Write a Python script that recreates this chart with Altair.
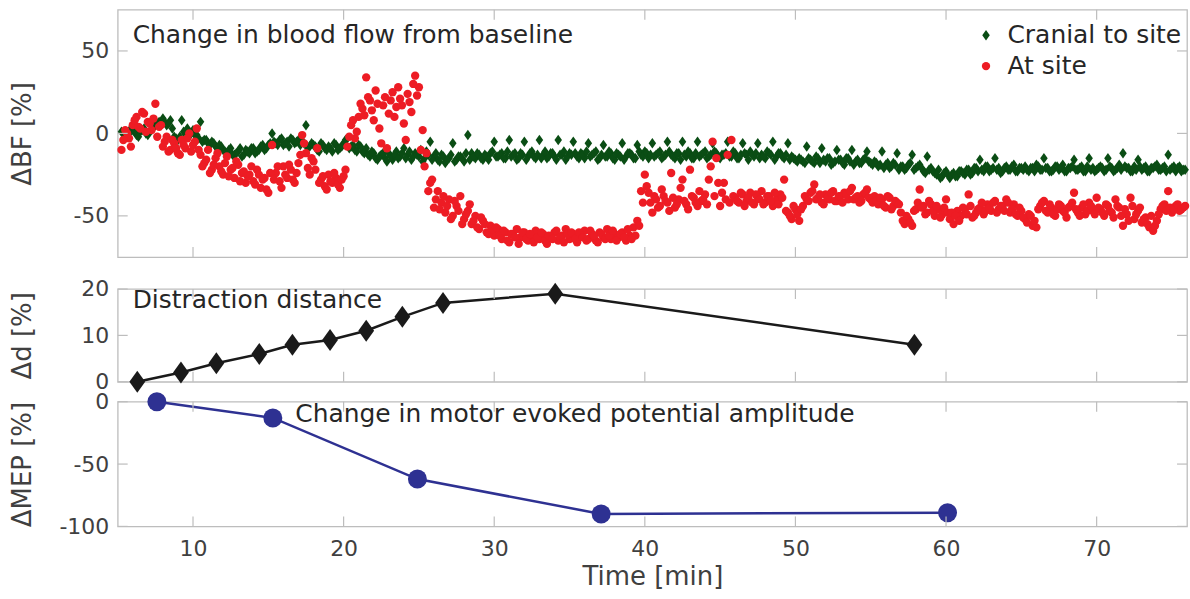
import altair as alt
import pandas as pd

# ---------------- data ----------------
# blood-flow samples: two interleaved sample sets, each one value every 0.25 min
BF_START_A = 5.25
BF_START_B = 5.375
BF_STEP = 0.25

cranial_bf_a = [
    1, -2, 0, 2, -1, 1, 3, -1, 2, 5, 7, 9, 5, 8, -2, -4, 8, 1, 0, 2,
    -1, 7, -4, -6, -5, -8, -7, -10, -12, -9, -13, -11, -14, -10, -12, -9, -11, -8, -10, -7,
    0, -6, -4, -7, -5, -3, -6, -4, -5, 5, -8, -7, -10, -6, -9, -8, -11, -7, -9, -6,
    -3, -8, -10, -7, -11, -9, -14, -12, -16, -13, -15, -12, -16, -11, -14, -9, -13, -16, -12, -14,
    -17, -11, -5, -14, -16, -13, -18, -15, -6, -16, -14, -17, -1, -12, -15, -13, -16, -14, -12, -5,
    -14, -12, -15, -4, -13, -16, -12, -5, -14, -11, -15, -4, -13, -15, -12, -14, -4, -13, -16, -12,
    -5, -14, -12, -15, -6, -13, -11, -15, -7, -14, -12, -16, -13, -6, -14, -12, -15, -7, -13, -11,
    -15, -6, -13, -11, -14, -5, -13, -15, -12, -5, -14, -12, -15, -5, -13, -11, -14, -6, -12, -15,
    -13, -5, -14, -12, -15, -6, -13, -11, -14, -6, -13, -15, -12, -5, -14, -12, -15, -6, -14, -16,
    -15, -17, -8, -16, -18, -15, -9, -17, -15, -18, -10, -16, -19, -15, -10, -17, -18, -16, -11, -18,
    -17, -20, -11, -19, -21, -18, -12, -20, -22, -19, -13, -21, -19, -23, -14, -21, -24, -22, -26, -23,
    -27, -24, -26, -23, -25, -22, -24, -21, -16, -23, -20, -22, -15, -21, -23, -20, -22, -19, -23, -21,
    -20, -23, -21, -19, -22, -15, -21, -23, -20, -22, -19, -23, -21, -16, -22, -20, -23, -15, -21, -22,
    -20, -23, -15, -21, -22, -19, -12, -21, -23, -20, -16, -22, -20, -23, -21, -19, -22, -20, -13, -21,
    -23, -20, -22,
]
cranial_bf_b = [
    0, -1, 3, 1, -2, 2, 0, 1, 4, 6, 5, 7, 6, 3, -3, -2, 1, 3, 0, -1,
    -3, -5, -4, -7, -6, -9, -8, -11, -10, -13, -12, -9, -13, -11, -9, -12, -10, -7, -9, -6,
    -5, -7, -3, -6, -8, -4, -5, -7, -6, -9, -6, -8, -11, -7, -10, -9, -6, -10, -8, -4,
    -9, -7, -11, -8, -12, -13, -11, -15, -14, -12, -17, -14, -13, -15, -12, -15, -11, -14, -13, -10,
    -15, -13, -16, -12, -17, -14, -16, -13, -17, -14, -15, -12, -16, -14, -12, -15, -13, -16, -11, -14,
    -13, -15, -11, -14, -12, -15, -13, -16, -12, -14, -13, -15, -11, -14, -12, -16, -13, -11, -14, -13,
    -12, -15, -13, -11, -14, -12, -16, -13, -14, -11, -15, -12, -14, -16, -12, -13, -15, -11, -14, -12,
    -13, -14, -12, -15, -13, -11, -14, -12, -16, -13, -11, -15, -12, -14, -12, -15, -13, -11, -14, -13,
    -12, -14, -11, -15, -13, -12, -16, -13, -12, -15, -14, -11, -13, -16, -12, -14, -13, -16, -15, -17,
    -16, -18, -15, -17, -14, -18, -16, -15, -19, -17, -16, -18, -15, -17, -19, -16, -18, -15, -17, -19,
    -18, -19, -21, -18, -20, -19, -22, -20, -21, -18, -22, -20, -21, -24, -22, -23, -25, -27, -24, -25,
    -25, -26, -23, -24, -22, -25, -21, -23, -22, -20, -23, -21, -22, -24, -21, -22, -20, -23, -21, -22,
    -22, -21, -23, -20, -22, -21, -23, -22, -20, -21, -23, -21, -20, -22, -21, -23, -20, -22, -23, -21,
    -21, -22, -20, -23, -21, -22, -20, -21, -23, -22, -20, -21, -23, -21, -20, -22, -21, -23, -22, -20,
    -21, -23, -22,
]

atsite_bf_a = [
    -10, 2, -3, 5, 10, 3, 12, 7, 2, 18, 4, -8, -2, -10, -6, -12, -4, -9, 0, -7,
    3, -13, -18, -10, -22, -15, -20, -25, -14, -22, -27, -19, -24, -30, -25, -29, -22, -33, -27, -36,
    -7, -24, -29, -20, -27, -22, -30, -18, -1, -12, -25, -17, -9, -28, -32, -25, -30, -27, -33, -26,
    -8, 5, -3, 10, 15, 34, 20, 8, 18, -6, 22, 12, 25, 16, 21, 6, 24, 13, 35, 28,
    2, -12, -30, -45, -35, -42, -48, -40, -50, -44, -38, -52, -47, -55, -50, -58, -53, -60, -56, -62,
    -58, -64, -60, -66, -61, -58, -63, -60, -65, -62, -59, -64, -61, -67, -63, -60, -65, -62, -58, -64,
    -61, -66, -62, -59, -64, -61, -65, -60, -63, -58, -64, -61, -63, -60, -65, -62, -57, -53, -35, -25,
    -36, -48, -40, -44, -38, -42, -24, -45, -40, -28, -43, -22, -39, -44, -41, -37, -28, -5, -15, -44,
    -30, -13, -4, -39, -42, -37, -41, -36, -43, -39, -35, -42, -38, -44, -40, -37, -28, -48, -52, -46,
    -53, -44, -40, -36, -31, -39, -42, -37, -40, -35, -41, -38, -36, -40, -33, -39, -42, -37, -34, -40,
    -38, -43, -40, -45, -39, -44, -42, -48, -55, -52, -56, -46, -34, -44, -48, -43, -50, -46, -49, -40,
    -52, -55, -47, -50, -46, -37, -51, -48, -45, -49, -43, -47, -41, -46, -44, -40, -48, -43, -50, -47,
    -52, -49, -56, -57, -44, -41, -48, -45, -50, -43, -47, -51, -44, -36, -48, -45, -49, -42, -47, -39,
    -46, -50, -44, -48, -40, -45, -56, -49, -39, -52, -47, -54, -51, -57, -59, -53, -46, -43, -35, -48,
    -44, -47, -45,
]
atsite_bf_b = [
    -4, 0, -8, 8, 4, 13, 1, 6, 9, -2, 5, -5, -11, -4, -9, -13, -7, -3, -11, -5,
    -10, -20, -16, -24, -19, -12, -23, -18, -26, -21, -17, -29, -23, -26, -20, -31, -25, -28, -34, -24,
    -28, -20, -33, -25, -19, -28, -24, -13, -6, -21, -15, -22, -30, -26, -34, -29, -24, -31, -28, -22,
    -2, 8, 1, 18, 11, 22, 14, 26, 3, 17, -9, 20, 10, 28, 17, -4, 19, 30, 23, -10,
    -20, -35, -28, -40, -46, -38, -44, -52, -41, -47, -55, -49, -43, -53, -57, -51, -55, -61, -58, -57,
    -62, -59, -65, -61, -63, -67, -60, -64, -61, -66, -63, -60, -65, -62, -64, -59, -63, -66, -61, -60,
    -64, -60, -63, -65, -59, -62, -66, -61, -64, -62, -59, -65, -61, -63, -58, -64, -62, -56, -42, -32,
    -42, -38, -45, -34, -41, -47, -39, -43, -33, -41, -46, -38, -42, -35, -40, -43, -20, -38, -30, -36,
    -40, -42, -38, -41, -36, -44, -39, -42, -37, -40, -43, -38, -41, -36, -43, -39, -47, -50, -44, -49,
    -46, -38, -41, -35, -40, -37, -43, -39, -36, -41, -38, -42, -37, -35, -40, -38, -41, -36, -39, -42,
    -41, -39, -44, -38, -46, -41, -43, -53, -50, -54, -47, -42, -45, -49, -41, -47, -44, -51, -45, -48,
    -48, -50, -53, -45, -49, -44, -50, -46, -42, -47, -45, -42, -48, -44, -47, -42, -46, -49, -45, -51,
    -54, -50, -53, -46, -42, -47, -43, -49, -46, -44, -48, -45, -42, -46, -50, -43, -47, -44, -49, -45,
    -48, -43, -47, -51, -44, -50, -46, -53, -44, -49, -45, -52, -55, -50, -56, -49, -44, -47, -45, -46,
    -43, -46, -44,
]

series_names = ["Cranial to site", "At site"]

dist_time = [6.3, 9.2, 11.55, 14.4, 16.6, 19.1, 21.5, 23.9, 26.6, 34.05, 57.9]
dist_val = [0, 2, 4, 6, 8, 9, 11, 14, 17, 19, 8]

mep_time = [7.6, 15.3, 24.9, 37.1, 60.1]
mep_val = [0, -13, -62, -90, -89]

x_ticks = [10, 20, 30, 40, 50, 60, 70]
bf_ticks = [-50, 0, 50]
d_ticks = [0, 10, 20]
mep_ticks = [-100, -50, 0]


# ---------------- tables ----------------
def sample_table(values, start, name, rank):
    times = [round(start + BF_STEP * i, 3) for i in range(len(values))]
    return pd.DataFrame({"t": times, "v": values, "s": name, "rank": rank})


bf_df = pd.concat([
    sample_table(cranial_bf_a, BF_START_A, series_names[0], 0),
    sample_table(cranial_bf_b, BF_START_B, series_names[0], 0),
    sample_table(atsite_bf_a, BF_START_A, series_names[1], 1),
    sample_table(atsite_bf_b, BF_START_B, series_names[1], 1),
], ignore_index=True)
dist_df = pd.DataFrame({"t": dist_time, "v": dist_val})
mep_df = pd.DataFrame({"t": mep_time, "v": mep_val})

# ---------------- style ----------------
W = 1072
H1, H2, H3 = 248, 93, 125
FONT = "DejaVu Sans"
GREY = "#bdbdbd"
LAB = "#404040"
TXT = "#262626"
GREEN = "#0a4d14"
RED = "#ed1c24"
BLACK = "#1a1a1a"
BLUE = "#2e3192"
DIAMOND = "M0,-1L0.72,0L0,1L-0.72,0Z"
TICK = 10

xs = alt.Scale(domain=[5, 76], nice=False, zero=False)


def x_axis(show):
    if not show:
        return None
    return alt.Axis(values=x_ticks, title="Time [min]", ticks=False, tickSize=0,
                    domain=False, grid=False, labelPadding=12, titlePadding=4,
                    labelFontSize=22, titleFontSize=26, labelColor=LAB,
                    titleColor=LAB, titleFontWeight="normal", labelFont=FONT,
                    titleFont=FONT, labelExpr="'' + datum.value")


def y_axis(title, ticks, h):
    return alt.Axis(values=ticks, title=title, ticks=False, tickSize=0,
                    domain=False, grid=False, labelPadding=9, labelFontSize=22,
                    titleFontSize=26, labelColor=LAB, titleColor=LAB,
                    titleFontWeight="normal", labelFont=FONT, titleFont=FONT,
                    titleX=-95, titleY=h / 2, titleAngle=270, titleAlign="center",
                    titleBaseline="middle", labelExpr="'' + datum.value",
                    labelFlush=False)


def frame_ticks(yticks, ys, h, xa, ya):
    xt = pd.DataFrame({"tv": x_ticks})
    yt = pd.DataFrame({"tv": yticks})
    top = alt.Chart(xt).mark_rule(color=GREY, strokeWidth=1.2).encode(
        x=alt.X("tv:Q", scale=xs, axis=xa), y=alt.value(0), y2=alt.value(TICK))
    bot = alt.Chart(xt).mark_rule(color=GREY, strokeWidth=1.2).encode(
        x=alt.X("tv:Q", scale=xs, axis=xa), y=alt.value(h), y2=alt.value(h - TICK))
    left = alt.Chart(yt).mark_rule(color=GREY, strokeWidth=1.2).encode(
        y=alt.Y("tv:Q", scale=ys, axis=ya), x=alt.value(0), x2=alt.value(TICK))
    right = alt.Chart(yt).mark_rule(color=GREY, strokeWidth=1.2).encode(
        y=alt.Y("tv:Q", scale=ys, axis=ya), x=alt.value(W), x2=alt.value(W - TICK))
    return [top, bot, left, right]


def label(text, x, y):
    return alt.Chart(pd.DataFrame({"txt": [text]})).mark_text(
        align="left", baseline="middle", font=FONT, fontSize=25, color=TXT
    ).encode(text="txt:N", x=alt.value(x), y=alt.value(y))


def legend():
    return alt.Legend(orient="none", legendX=858, legendY=13, title=None,
                      labelFontSize=25, labelColor=TXT, labelFont=FONT,
                      labelLimit=0, symbolSize=45, labelOffset=9, rowPadding=5,
                      padding=0, symbolStrokeWidth=0)


# ---------------- top panel: blood flow ----------------
ys1 = alt.Scale(domain=[-75, 75], nice=False, zero=False)
xa1 = x_axis(False)
ya1 = y_axis("ΔBF [%]", bf_ticks, H1)
scatter = alt.Chart(bf_df).mark_point(filled=True, opacity=1, strokeWidth=0).encode(
    x=alt.X("t:Q", scale=xs, axis=xa1),
    y=alt.Y("v:Q", scale=ys1, axis=ya1),
    color=alt.Color("s:N", scale=alt.Scale(domain=series_names, range=[GREEN, RED]),
                    legend=legend()),
    shape=alt.Shape("s:N", scale=alt.Scale(domain=series_names, range=[DIAMOND, "circle"]),
                    legend=legend()),
    size=alt.Size("s:N", scale=alt.Scale(domain=series_names, range=[110, 70]), legend=None),
    order=alt.Order("rank:Q"),
)
top = alt.layer(
    scatter, *frame_ticks(bf_ticks, ys1, H1, xa1, ya1),
    label("Change in blood flow from baseline", 15, 25),
).properties(width=W, height=H1)

# ---------------- middle panel: distraction distance ----------------
ys2 = alt.Scale(domain=[0, 20], nice=False, zero=False)
xa2 = x_axis(False)
ya2 = y_axis("Δd [%]", d_ticks, H2)
d_base = alt.Chart(dist_df).encode(x=alt.X("t:Q", scale=xs, axis=xa2),
                                   y=alt.Y("v:Q", scale=ys2, axis=ya2))
mid = alt.layer(
    d_base.mark_line(color=BLACK, strokeWidth=2.5),
    d_base.mark_point(shape=DIAMOND, filled=True, size=484, color=BLACK, opacity=1),
    *frame_ticks(d_ticks, ys2, H2, xa2, ya2),
    label("Distraction distance", 15, 11),
).properties(width=W, height=H2)

# ---------------- bottom panel: MEP ----------------
ys3 = alt.Scale(domain=[-100, 0], nice=False, zero=False)
xa3 = x_axis(True)
ya3 = y_axis("ΔMEP [%]", mep_ticks, H3)
m_base = alt.Chart(mep_df).encode(x=alt.X("t:Q", scale=xs, axis=xa3),
                                  y=alt.Y("v:Q", scale=ys3, axis=ya3))
bot = alt.layer(
    m_base.mark_line(color=BLUE, strokeWidth=2.5),
    m_base.mark_circle(size=361, color=BLUE, opacity=1),
    *frame_ticks(mep_ticks, ys3, H3, xa3, ya3),
    label("Change in motor evoked potential amplitude", 178, 12),
).properties(width=W, height=H3)

lower = alt.vconcat(mid, bot, spacing=20, bounds="flush")
chart = alt.vconcat(top, lower, spacing=32, bounds="flush").properties(
    padding={"left": 9, "top": 7, "right": 0, "bottom": 0},
    background="white",
).configure_view(stroke=GREY, strokeWidth=1.3)

chart.save("out.html", embed_options={"renderer": "svg", "actions": False})
